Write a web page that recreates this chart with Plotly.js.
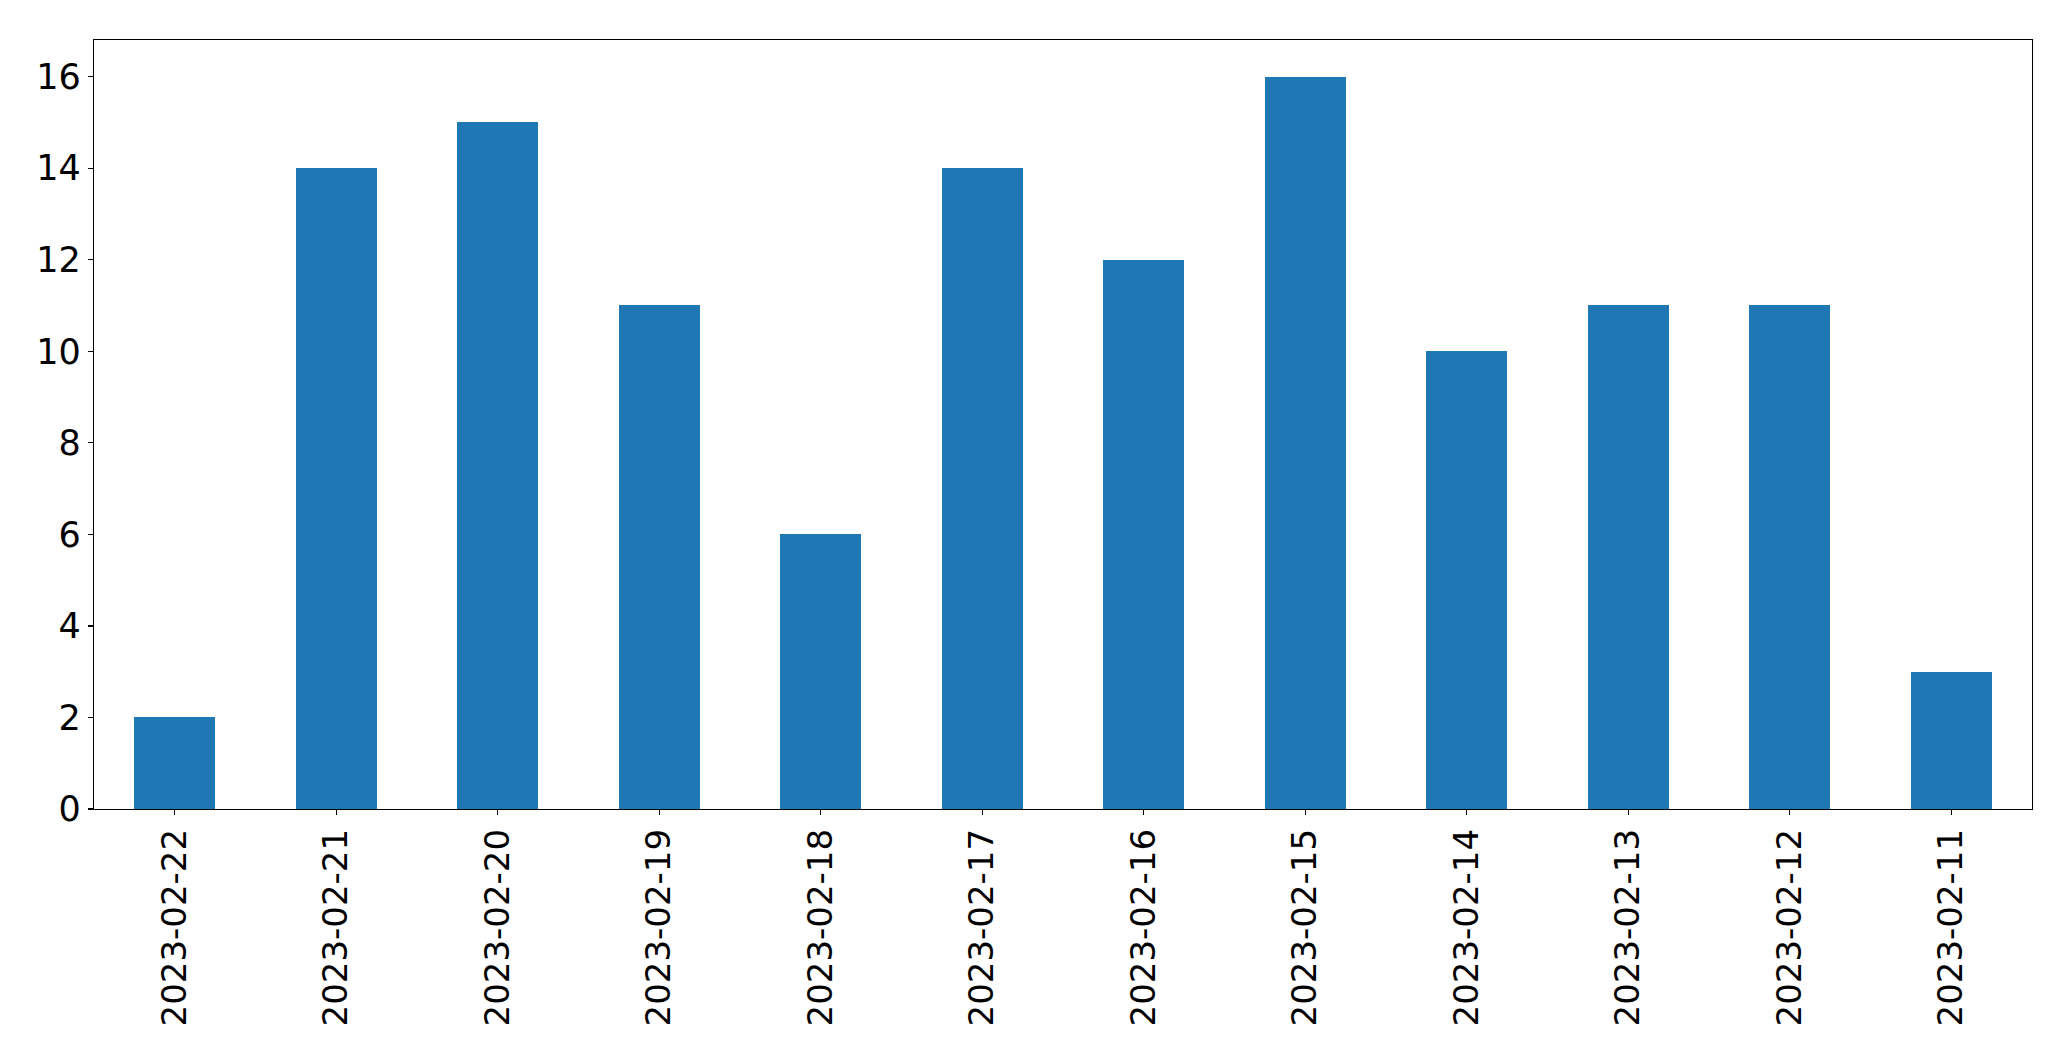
<!DOCTYPE html>
<html>
<head>
<meta charset="utf-8">
<script src="https://cdn.plot.ly/plotly-3.0.1.min.js"></script>
<style>html,body{margin:0;padding:0;background:#fff;}#chart{width:2071px;height:1061px;}</style>
</head>
<body>
<div id="chart"></div>
<script>
const dates = ["2023-02-22","2023-02-21","2023-02-20","2023-02-19","2023-02-18","2023-02-17","2023-02-16","2023-02-15","2023-02-14","2023-02-13","2023-02-12","2023-02-11"];
const counts = [2,14,15,11,6,14,12,16,10,11,11,3];
const yTicks = [0,2,4,6,8,10,12,14,16];

const trace = {
  type: 'bar',
  x: dates,
  y: counts,
  width: 0.5,
  marker: {color: '#1f77b4', line: {width: 0}},
  hoverinfo: 'x+y'
};

const yFont = {family: 'DejaVu Sans, sans-serif', size: 35, color: '#000'};
const xFont = {family: 'DejaVu Sans, sans-serif', size: 34, color: '#000'};

const layout = {
  width: 2071,
  height: 1061,
  margin: {l: 94, r: 39, t: 40, b: 252, pad: 0},
  paper_bgcolor: '#fff',
  plot_bgcolor: '#fff',
  showlegend: false,
  bargap: 0,
  xaxis: {
    type: 'category',
    range: [-0.5, 11.5],
    tickangle: -90,
    tickfont: xFont,
    ticks: 'outside',
    ticklen: 5,
    tickwidth: 1.3,
    tickcolor: '#000',
    showline: true,
    linecolor: '#000',
    linewidth: 1.3,
    mirror: true,
    showgrid: false,
    zeroline: false,
    automargin: false
  },
  yaxis: {
    range: [0, 16.8],
    tickvals: yTicks,
    ticktext: yTicks.map(String),
    tickfont: yFont,
    ticks: 'outside',
    ticklen: 5,
    tickwidth: 1.3,
    tickcolor: '#000',
    showline: true,
    linecolor: '#000',
    linewidth: 1.3,
    mirror: true,
    showgrid: false,
    zeroline: false,
    automargin: false
  }
};

Plotly.newPlot('chart', [trace], layout, {displayModeBar: false, staticPlot: true});
</script>
</body>
</html>
